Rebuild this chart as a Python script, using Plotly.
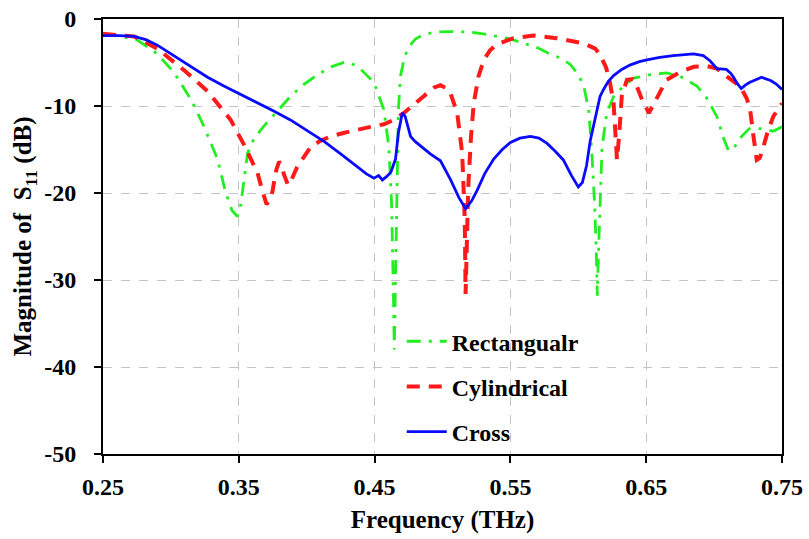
import plotly.graph_objects as go

# Rectangular resonator: frequency (THz) and |S11| (dB)
rect_freq = [0.250, 0.260, 0.275, 0.290, 0.3025, 0.315, 0.3245, 0.3343, 0.3404, 0.345,
             0.349, 0.3515, 0.3535, 0.3565, 0.3613, 0.368, 0.376, 0.388, 0.398, 0.408,
             0.418, 0.4274, 0.433, 0.440, 0.4495, 0.4568, 0.4605, 0.4625, 0.4638, 0.4645,
             0.4655, 0.4665, 0.4675, 0.469, 0.472, 0.4752, 0.480, 0.486, 0.495, 0.506,
             0.5206, 0.530, 0.540, 0.550, 0.5598, 0.570, 0.579, 0.587, 0.594, 0.600,
             0.604, 0.6076, 0.610, 0.612, 0.6133, 0.614, 0.6148, 0.616, 0.6175, 0.621,
             0.626, 0.6334, 0.6407, 0.653, 0.665, 0.675, 0.6873, 0.6946, 0.702, 0.707,
             0.7105, 0.714, 0.719, 0.726, 0.735, 0.7435, 0.750]
rect_s11 = [-1.8, -1.9, -2.4, -4.0, -6.2, -9.3, -12.4, -16.1, -20.0, -22.0,
            -22.7, -21.3, -18.9, -15.4, -13.7, -12.4, -11.0, -8.9, -7.5, -6.4,
            -5.5, -5.0, -5.1, -5.8, -7.3, -10.4, -14.7, -21.3, -31.0, -38.0,
            -29.0, -17.4, -10.6, -6.6, -4.4, -3.2, -2.3, -1.8, -1.5, -1.45,
            -1.5, -1.7, -2.0, -2.3, -2.8, -3.3, -4.0, -4.5, -5.2, -6.4,
            -7.7, -10.4, -15.4, -21.3, -27.1, -31.8, -27.1, -20.3, -14.7, -10.8,
            -8.9, -7.7, -6.8, -6.4, -6.2, -6.6, -7.7, -9.1, -11.2, -13.7,
            -15.1, -15.0, -13.7, -12.6, -12.6, -12.9, -12.4]

# Cylindrical resonator
cyl_freq = [0.250, 0.262, 0.273, 0.290, 0.3098, 0.327, 0.344, 0.354, 0.3638, 0.368,
            0.3705, 0.3728, 0.3748, 0.3775, 0.3797, 0.3815, 0.3833, 0.3863, 0.389, 0.393,
            0.398, 0.403, 0.410, 0.4176, 0.427, 0.437, 0.447, 0.4568, 0.464, 0.4716,
            0.480, 0.4887, 0.4936, 0.4985, 0.503, 0.5058, 0.5108, 0.5145, 0.5164, 0.517,
            0.5178, 0.519, 0.521, 0.523, 0.5265, 0.5304, 0.535, 0.540, 0.5524, 0.567,
            0.584, 0.596, 0.604, 0.6125, 0.616, 0.6205, 0.6233, 0.626, 0.6275, 0.6285,
            0.630, 0.632, 0.6358, 0.640, 0.642, 0.647, 0.652, 0.655, 0.658, 0.665,
            0.675, 0.685, 0.6946, 0.702, 0.7093, 0.719, 0.724, 0.7265, 0.729, 0.7314,
            0.7335, 0.735, 0.739, 0.7436, 0.750]
cyl_s11 = [-1.7, -1.8, -2.0, -3.4, -5.9, -8.3, -11.6, -14.5, -17.7, -20.1,
           -21.3, -20.8, -19.8, -17.4, -16.4, -16.8, -17.9, -19.1, -18.4, -17.0,
           -15.8, -14.7, -14.0, -13.5, -13.1, -12.7, -12.4, -12.1, -11.6, -10.8,
           -9.7, -8.5, -7.9, -7.6, -8.0, -8.5, -10.8, -15.4, -23.1, -31.6,
           -25.1, -19.2, -13.5, -9.7, -6.6, -4.7, -3.6, -2.9, -2.2, -1.9,
           -2.2, -2.5, -2.8, -3.4, -4.1, -5.6, -7.3, -9.7, -13.5, -16.2,
           -13.5, -8.9, -7.0, -6.9, -7.3, -9.3, -10.8, -9.9, -8.9, -7.0,
           -6.1, -5.5, -5.4, -5.7, -6.6, -7.7, -9.1, -10.4, -13.5, -16.2,
           -16.0, -15.4, -13.2, -11.2, -9.7]

# Cross-shaped resonator
cross_freq = [0.250, 0.262, 0.273, 0.282, 0.290, 0.302, 0.315, 0.327, 0.339, 0.352,
              0.364, 0.376, 0.388, 0.400, 0.413, 0.425, 0.437, 0.444, 0.4495, 0.453,
              0.4557, 0.459, 0.462, 0.4654, 0.4675, 0.4704, 0.4725, 0.4765, 0.480, 0.486,
              0.491, 0.4985, 0.506, 0.512, 0.517, 0.5215, 0.5255, 0.531, 0.5377, 0.544,
              0.550, 0.557, 0.5647, 0.571, 0.577, 0.583, 0.589, 0.595, 0.600, 0.603,
              0.606, 0.6088, 0.611, 0.616, 0.6186, 0.622, 0.626, 0.632, 0.638, 0.645,
              0.6505, 0.660, 0.670, 0.6848, 0.692, 0.697, 0.702, 0.706, 0.709, 0.712,
              0.714, 0.717, 0.720, 0.723, 0.726, 0.735, 0.742, 0.746, 0.750]
cross_s11 = [-1.9, -1.9, -2.0, -2.4, -3.0, -4.2, -5.5, -6.7, -7.7, -8.7,
             -9.7, -10.6, -11.6, -12.8, -14.1, -15.5, -16.9, -17.8, -18.3, -18.0,
             -18.5, -18.1, -17.6, -16.1, -13.1, -10.8, -11.2, -13.5, -14.1, -14.9,
             -15.5, -16.3, -18.5, -20.5, -21.8, -20.9, -19.7, -17.8, -16.1, -15.0,
             -14.2, -13.7, -13.5, -13.7, -14.3, -15.2, -16.2, -18.0, -19.3, -18.8,
             -16.9, -14.0, -12.4, -8.9, -8.1, -7.2, -6.5, -5.8, -5.3, -4.9,
             -4.7, -4.4, -4.2, -4.0, -4.2, -4.8, -5.7, -5.8, -5.8, -6.2,
             -6.6, -7.4, -8.0, -7.6, -7.3, -6.7, -7.1, -7.5, -8.1]

x_ticks = [0.25, 0.35, 0.45, 0.55, 0.65, 0.75]
y_ticks = [0, -10, -20, -30, -40, -50]
y_tick_text = ["0", "-10", "-20", "-30", "-40", "-50"]

tick_font = dict(family="Liberation Serif", size=24, color="black", weight="bold")
title_font = dict(family="Liberation Serif", size=25, color="black", weight="bold")
legend_font = dict(family="Liberation Serif", size=24, color="black", weight="bold")

fig = go.Figure()
fig.add_trace(go.Scatter(x=rect_freq, y=rect_s11, mode="lines", name="Rectangualr",
                         legendgroup="a",
                         line=dict(color="#22ee22", width=2.8, dash="14px,8px,3px,8px")))
fig.add_trace(go.Scatter(x=cyl_freq, y=cyl_s11, mode="lines", name="Cylindrical",
                         legendgroup="b",
                         line=dict(color="#ff1a1a", width=4, dash="13px,9px")))
fig.add_trace(go.Scatter(x=cross_freq, y=cross_s11, mode="lines", name="Cross",
                         legendgroup="c",
                         line=dict(color="#0a0aff", width=2.8)))

axis_common = dict(
    showline=True, linecolor="black", linewidth=2, mirror=True,
    ticks="outside", ticklen=7, tickwidth=2, tickcolor="black",
    showgrid=True, gridcolor="#c4c4c4", griddash="dash", gridwidth=1,
    tickfont=tick_font, zeroline=False, automargin=False,
)

fig.update_layout(
    width=809, height=539,
    margin=dict(l=103, r=27, t=19, b=85),
    paper_bgcolor="white", plot_bgcolor="white",
    xaxis=dict(range=[0.25, 0.75], tickvals=x_ticks,
               ticktext=[f"{v:.2f}" for v in x_ticks],
               ticklabelstandoff=3,
               title=dict(text="Frequency (THz)", font=title_font, standoff=12),
               **axis_common),
    yaxis=dict(range=[-50, 0], tickvals=y_ticks, ticktext=y_tick_text,
               ticklabelstandoff=13,
               title=dict(text="Magnitude of  S<sub>11</sub> (dB)", font=title_font, standoff=5),
               **axis_common),
    legend=dict(x=0.44, y=0.31, xanchor="left", yanchor="top",
                font=legend_font, bgcolor="rgba(0,0,0,0)",
                traceorder="grouped", tracegroupgap=11, itemwidth=40),
    showlegend=True,
)

fig.write_html("out.html")
